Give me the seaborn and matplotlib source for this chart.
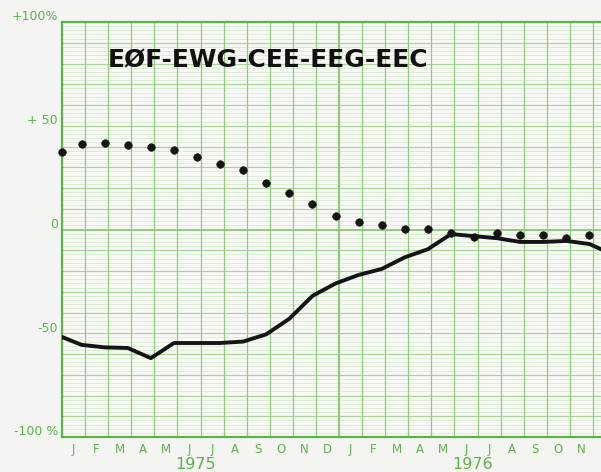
import numpy as np
import pandas as pd
import seaborn as sns
import matplotlib.pyplot as plt
import matplotlib.transforms as mtransforms

# values, one per month end (Dec 1974 .. Dec 1976)
month_labels = ['J', 'F', 'M', 'A', 'M', 'J', 'J', 'A', 'S', 'O', 'N', 'D'] * 2
years = ['1975', '1976']
dots = [37.3, 41.2, 41.7, 40.7, 39.8, 38.3, 34.9, 31.6, 28.7, 22.4, 17.6, 12.3,
        6.5, 3.6, 2.2, 0.2, 0.2, -1.7, -3.6, -1.7, -2.7, -2.7, -4.1, -2.7]
line = [-51.8, -55.6, -56.8, -57.1, -62.0, -54.7, -54.7, -54.7, -54.0, -50.5, -43.0, -32.0,
        -26.0, -21.9, -19.0, -13.4, -9.5, -2.2, -3.2, -4.2, -6.0, -6.0, -5.5, -7.0, -12.0]
y_labels = ['+100%', '+ 50', '0', '-50', '-100 %']
y_values = [100, 50, 0, -50, -100]
title = 'EØF-EWG-CEE-EEG-EEC'

green = '#5cb448'
grid_vert = '#8fcb7d'
grid_major = '#a9d69a'
grid_minor = '#d9ebd2'

df_dots = pd.DataFrame({'month': np.clip(np.arange(len(dots)) - 0.15, 0, None), 'value': dots})
df_line = pd.DataFrame({'month': np.clip(np.arange(len(line)) - 0.15, 0, None), 'value': line})

sns.set_style('white')
plt.rcParams['font.family'] = ['DejaVu Sans']

fig = plt.figure(figsize=(6.01, 4.72), dpi=100, facecolor='#f4f4f3')
# axes run past the right edge of the picture, like the cropped original
ax = fig.add_axes([62 / 601, 35 / 472, 554 / 601, 415 / 472])
ax.set_facecolor('#f8f9f5')
ax.set_xlim(0, 24)
ax.set_ylim(-100, 100)

# graph paper
for v in np.arange(-100, 101, 2):
    if v % 10 == 0:
        ax.axhline(v, color=grid_major if v != 0 else grid_vert, lw=0.9 if v != 0 else 1.4, zorder=0)
    else:
        ax.axhline(v, color=grid_minor, lw=0.6, zorder=0)
for m in range(25):
    ax.axvline(m, color=grid_vert, lw=1.6 if m == 12 else 0.9, zorder=0)

for side in ['left', 'top', 'bottom']:
    ax.spines[side].set_color(green)
    ax.spines[side].set_linewidth(1.6)
ax.spines['right'].set_visible(False)

sns.lineplot(data=df_line, x='month', y='value', color='#141414', lw=2.8, ax=ax, zorder=3)
sns.scatterplot(data=df_dots, x='month', y='value', color='#141414', s=30, edgecolor=None,
                ax=ax, zorder=4, clip_on=False)

ax.set_xticks(np.arange(24) + 0.5, month_labels)
ax.set_yticks([])
ax.tick_params(axis='x', length=0, pad=4, labelcolor=green, labelsize=8.5)
ax.set_xlabel('')
ax.set_ylabel('')

trans_y = mtransforms.blended_transform_factory(ax.transAxes, ax.transData)
for lab, v in zip(y_labels, y_values):
    ax.text(-0.007, v + 2.5, lab, transform=trans_y, ha='right', va='center',
            color=green, fontsize=9)

trans_x = mtransforms.blended_transform_factory(ax.transData, ax.transAxes)
for i, yr in enumerate(years):
    ax.text(5.8 + 12 * i, -0.066, yr, transform=trans_x, ha='center', va='center',
            color=green, fontsize=11.5)

ax.text(2.0, 78.3, title, ha='left', va='baseline', fontsize=18,
        fontweight='bold', color='#111111')

fig.savefig('out.png', dpi=100, facecolor=fig.get_facecolor())
